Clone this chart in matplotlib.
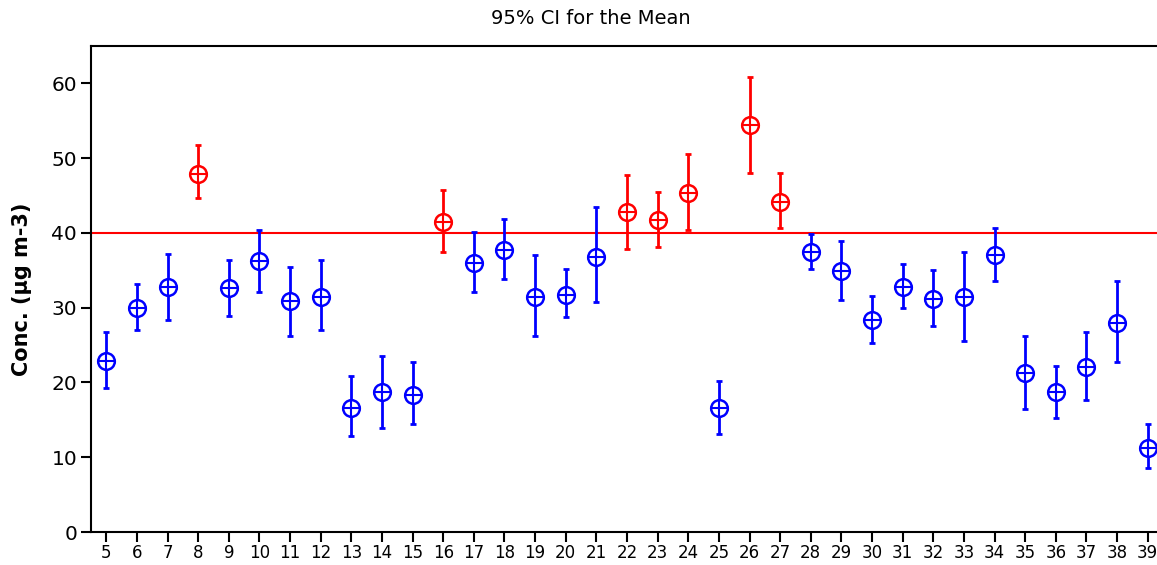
import numpy as np
import matplotlib.pyplot as plt

# groups along the x axis
groups = list(range(5, 40))
means = [22.9, 30.0, 32.8, 47.9, 32.6, 36.3, 30.9, 31.4, 16.6, 18.7,
         18.3, 41.4, 36.0, 37.7, 31.4, 31.7, 36.8, 42.8, 41.7, 45.3,
         16.6, 54.4, 44.2, 37.4, 34.9, 28.3, 32.8, 31.2, 31.4, 37.1,
         21.2, 18.7, 22.1, 28.0, 11.3]
upper = [26.7, 33.2, 37.2, 51.7, 36.4, 40.4, 35.5, 36.4, 20.8, 23.6,
         22.8, 45.8, 40.1, 41.8, 37.0, 35.2, 43.5, 47.7, 45.5, 50.6,
         20.2, 60.9, 48.0, 39.8, 38.9, 31.5, 35.8, 35.0, 37.5, 40.7,
         26.2, 22.2, 26.7, 33.6, 14.5]
lower = [19.3, 27.0, 28.4, 44.7, 28.9, 32.1, 26.2, 27.0, 12.8, 13.9,
         14.5, 37.5, 32.1, 33.8, 26.2, 28.7, 30.7, 37.8, 38.1, 40.4,
         13.1, 48.0, 40.7, 35.2, 31.0, 25.3, 29.9, 27.6, 25.6, 33.6,
         16.5, 15.3, 17.6, 22.7, 8.6]
limit = 40

x = np.array(groups)
m = np.array(means)
up = np.array(upper)
lo = np.array(lower)

fig = plt.figure(figsize=(11.57, 5.65), dpi=100)
ax = fig.add_axes([91 / 1157, 1 - 532 / 565, 1072 / 1157, 486 / 565])

for mask, col in [(m <= limit, "#0000ff"), (m > limit, "#ff0000")]:
    ax.errorbar(x[mask], m[mask], yerr=[m[mask] - lo[mask], up[mask] - m[mask]],
                fmt="none", ecolor=col, elinewidth=2, capsize=2.2, capthick=2, zorder=3)
    ax.plot(x[mask], m[mask], "o", ms=12, mfc="white", mec=col, mew=1.8, zorder=4)
    ax.plot(x[mask], m[mask], "+", ms=12, mec=col, mew=1.5, zorder=5)

ax.axhline(limit, color="#ff0000", lw=1.5, zorder=2)

ax.set_xlim(4.5, 39.5)
ax.set_ylim(0, 65)
ax.set_xticks(groups)
ax.set_xticklabels([str(g) for g in groups])
ax.set_yticks(range(0, 61, 10))

ax.spines["right"].set_visible(False)
for s in ["left", "bottom", "top"]:
    ax.spines[s].set_linewidth(1.5)
ax.tick_params(axis="y", direction="out", length=7, width=1.5, labelsize=14.5, pad=3)
ax.tick_params(axis="x", direction="out", length=7, width=1.5, labelsize=12, pad=2)

ax.set_ylabel("Conc. (μg m-3)", fontsize=15, fontweight="bold", labelpad=14)
fig.text(591 / 1157, 1 - 18 / 565, "95% CI for the Mean", fontsize=14,
         ha="center", va="center")

plt.savefig("out.png", dpi=100)
